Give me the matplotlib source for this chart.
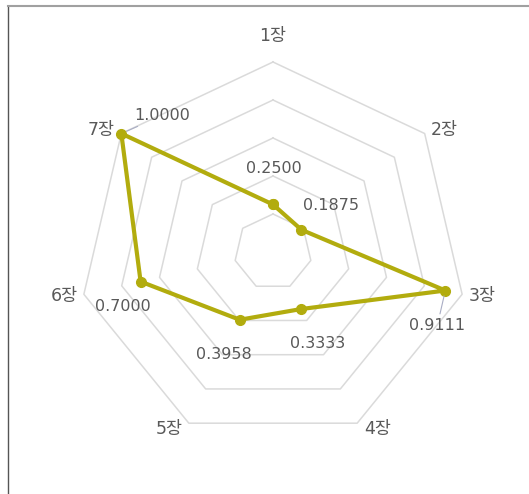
import numpy as np
import matplotlib
matplotlib.use("Agg")
import matplotlib.pyplot as plt
from matplotlib.lines import Line2D

plt.rcParams['font.family'] = ['DejaVu Sans', 'Noto Sans CJK KR']

# ---- chart data ----
categories = ['1장', '2장', '3장', '4장', '5장', '6장', '7장']
values = [0.2500, 0.1875, 0.9111, 0.3333, 0.3958, 0.7000, 1.0000]
value_labels = ['0.2500', '0.1875', '0.9111', '0.3333', '0.3958', '0.7000', '1.0000']
ring_levels = [0.2, 0.4, 0.6, 0.8, 1.0]

# ---- layout (pixels) ----
W, H = 529, 494
cx, cy = 273, 252          # centre of the radar
Rx, Ry = 194, 190          # radius of the outer ring in x / y

fig = plt.figure(figsize=(W / 100, H / 100), dpi=100)
fig.patch.set_facecolor('white')
ax = fig.add_axes([0, 0, 1, 1])
ax.axis('off')
ax.set_xlim(-cx / Rx, (W - cx) / Rx)
ax.set_ylim((cy - H) / Ry, cy / Ry)

n = len(categories)
theta = 2 * np.pi * np.arange(n) / n
sx, sy = np.sin(theta), np.cos(theta)

# heptagonal grid rings
for lvl in ring_levels:
    xs = np.append(lvl * sx, lvl * sx[0])
    ys = np.append(lvl * sy, lvl * sy[0])
    ax.plot(xs, ys, color='#dadada', lw=1.1, zorder=1)

# data series
v = np.array(values)
px, py = v * sx, v * sy
line_color = '#b2ac0e'
ax.plot(np.append(px, px[0]), np.append(py, py[0]), color=line_color, lw=3.0,
        marker='o', ms=7, mfc=line_color, mec=line_color, zorder=3,
        solid_joinstyle='round')

# value labels (offsets in pixels from each point)
label_offsets = [(1, 36), (30, 24), (-8, -35), (17, -34), (-16, -35), (-18, -25), (41, 18)]
leader = [False, False, True, False, False, False, True]
for i in range(n):
    kw = {}
    if leader[i]:
        kw['arrowprops'] = dict(arrowstyle='-', color='#a9adc4', lw=0.8,
                                shrinkA=1, shrinkB=4)
    ax.annotate(value_labels[i], (px[i], py[i]), xytext=label_offsets[i],
                textcoords='offset pixels', ha='center', va='center',
                fontsize=11.5, color='#595959', zorder=4, **kw)

# category labels beside the outer vertices
for i in range(n):
    if i == 0:
        off = (0, 26)
    else:
        off = (20 * np.sign(sx[i]), 6 * sy[i])
    ax.annotate(categories[i], (sx[i], sy[i]), xytext=off,
                textcoords='offset pixels', ha='center', va='center',
                fontsize=12.5, color='#595959')

# chart-area border (left and top edges)
fig.add_artist(Line2D([8 / W, 8 / W], [0, 1 - 6 / H], transform=fig.transFigure,
                      color='#555555', lw=1.0))
fig.add_artist(Line2D([8 / W, 1], [1 - 6 / H, 1 - 6 / H], transform=fig.transFigure,
                      color='#a0a0a0', lw=1.5))

fig.savefig('out.png', dpi=100, facecolor='white')
